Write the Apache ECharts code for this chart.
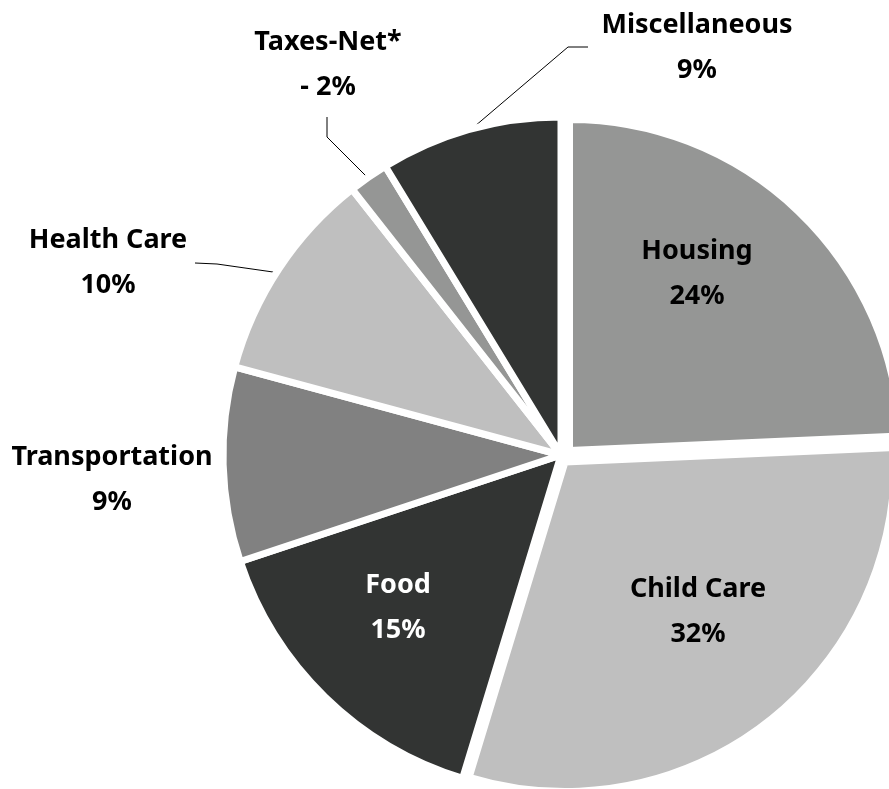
<!DOCTYPE html>
<html><head><meta charset="utf-8">
<script src="https://cdn.jsdelivr.net/npm/echarts@6/dist/echarts.min.js"></script>
<style>html,body{margin:0;padding:0;background:#fff}#c{width:889px;height:789px}</style>
</head><body><div id="c"></div>
<script>
// ---- data ----
const categories = ['Housing', 'Child Care', 'Food', 'Transportation', 'Health Care', 'Taxes-Net*', 'Miscellaneous'];
const shares = [24.3, 30.4, 15.2, 9.3, 10.2, 1.9, 8.7];
const shareLabels = ['24%', '32%', '15%', '9%', '10%', '- 2%', '9%'];

// ---- styles / positions ----
const colors = ['#959695', '#bfbfbf', '#323433', '#818181', '#bfbfbf', '#959695', '#323433'];
const labelColors = ['#000', '#000', '#fff', '#000', '#000', '#000', '#000'];
const labelPos = [[697, 274], [698, 612], [398, 608], [112, 480], [108, 263], [328, 65], [697, 48]];
const leaderLines = {
  4: [[195, 263], [217, 264], [280, 273]],
  5: [[327, 117], [327, 137], [370, 180]],
  6: [[588, 47], [568, 47], [468, 132]]
};
const explodedSlices = {0: {center: [569.5, 450.5], radius: 331}, 1: {center: [565, 462], radius: 329.5}};
const baseCenter = [561, 455], baseRadius = 338, gap = 7;

const labelFont = {fontFamily: '"Noto Sans", sans-serif', fontWeight: 'bold', fontSize: 27, lineHeight: 45};

function layoutFn(params) {
  const i = params.dataIndex;
  const p = labelPos[i];
  const r = {x: p[0], y: p[1], align: 'center', verticalAlign: 'middle'};
  if (leaderLines[i]) r.labelLinePoints = leaderLines[i];
  return r;
}
function fmt(params) { return params.name + '\n' + shareLabels[params.dataIndex]; }

const series = [];
series.push({
  type: 'pie', center: baseCenter, radius: baseRadius, startAngle: 90, clockwise: true,
  avoidLabelOverlap: false, silent: true, animation: false,
  label: Object.assign({position: 'outside', formatter: fmt, align: 'center'}, labelFont),
  labelLine: {show: false, lineStyle: {color: '#000', width: 1}},
  labelLayout: layoutFn,
  data: categories.map((name, i) => ({
    name, value: shares[i],
    itemStyle: explodedSlices[i] ? {color: 'rgba(0,0,0,0)', borderWidth: 0} : {color: colors[i], borderColor: '#fff', borderWidth: gap},
    label: {show: !explodedSlices[i], color: labelColors[i]},
    labelLine: {show: !!leaderLines[i], lineStyle: {color: '#000', width: 1}}
  }))
});
Object.keys(explodedSlices).forEach(k => {
  const idx = +k, cfg = explodedSlices[k];
  series.push({
    type: 'pie', center: cfg.center, radius: cfg.radius, startAngle: 90, clockwise: true,
    avoidLabelOverlap: false, silent: true, animation: false,
    label: Object.assign({position: 'inside', formatter: fmt, align: 'center'}, labelFont),
    labelLine: {show: false},
    labelLayout: layoutFn,
    data: categories.map((name, i) => ({
      name, value: shares[i],
      itemStyle: i === idx ? {color: colors[i], borderColor: '#fff', borderWidth: gap} : {color: 'rgba(0,0,0,0)', borderWidth: 0},
      label: {show: i === idx, color: labelColors[i]}
    }))
  });
});

const chart = echarts.init(document.getElementById('c'), null, {renderer: 'canvas'});
chart.setOption({backgroundColor: '#fff', animation: false, series});
</script></body></html>
